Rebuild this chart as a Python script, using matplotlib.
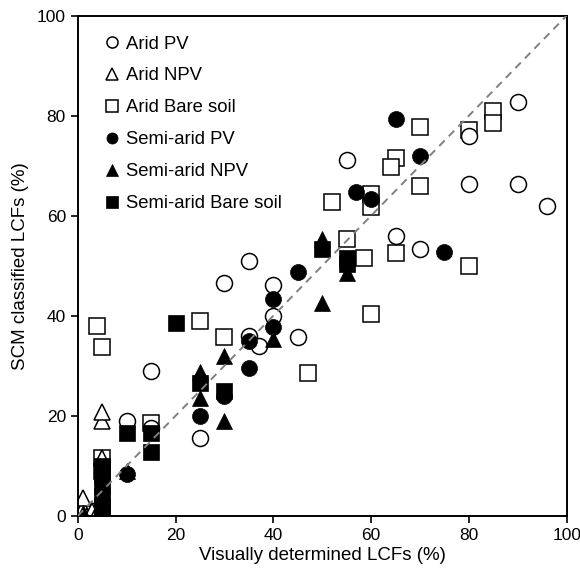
import matplotlib.pyplot as plt
from matplotlib.lines import Line2D

plt.rcParams["font.family"] = ["Liberation Sans", "DejaVu Sans"]

# Visually determined vs SCM classified land cover fractions (%)
arid_pv_x = [3, 10, 15, 15, 25, 30, 35, 35, 37, 40, 40, 45, 55, 65, 70, 80, 80, 90, 90, 96]
arid_pv_y = [1, 19, 29, 17.5, 15.6, 46.6, 51, 36, 34, 46.2, 40, 35.7, 71.2, 56, 53.3, 66.3, 76, 82.7, 66.3, 62]

arid_npv_x = [0.5, 1, 1, 2, 3, 4, 5, 5, 5, 5]
arid_npv_y = [0, 1.5, 3.5, 0, 1, 0.5, 0, 11.5, 19, 20.8]

arid_bare_x = [4, 5, 5, 5, 15, 25, 30, 47, 52, 55, 58.5, 60, 60, 60, 65, 64, 65, 70, 70, 80, 80, 85, 85]
arid_bare_y = [38, 33.7, 11.5, 9, 18.5, 39, 35.7, 28.5, 62.7, 55.3, 51.5, 40.3, 64.3, 61.7, 71.5, 69.7,
               52.5, 66, 77.8, 77.2, 50, 81, 78.5]

semi_pv_x = [5, 10, 25, 30, 35, 35, 40, 40, 45, 57, 60, 65, 70, 75]
semi_pv_y = [3, 8.3, 20, 24, 29.5, 35, 43.3, 37.7, 48.7, 64.8, 63.3, 79.3, 72, 52.8]

semi_npv_x = [1, 5, 5, 10, 25, 25, 30, 30, 40, 50, 50, 55]
semi_npv_y = [0.5, 2, 5, 9, 28.7, 23.5, 32, 19, 35.3, 42.5, 55.3, 48.5]

semi_bare_x = [5, 5, 5, 5, 5, 5, 10, 15, 15, 20, 25, 30, 50, 55, 55]
semi_bare_y = [10, 8, 6, 4, 2, 0.5, 16.5, 16.5, 12.7, 38.5, 26.5, 25, 53.4, 51.5, 50.3]

ticks = [0, 20, 40, 60, 80, 100]

fig = plt.figure(figsize=(5.8, 5.79), dpi=100)
ax = fig.add_axes([0.134, 0.109, 0.843, 0.864])

# 1:1 line
ax.plot([0, 100], [0, 100], linestyle=(0, (4, 3)), color="#808080", linewidth=1.4, zorder=5)

open_style = dict(linestyle="none", markerfacecolor="white", markeredgecolor="black",
                  markeredgewidth=1.1, color="black")
filled_style = dict(linestyle="none", color="black", markeredgecolor="black", markeredgewidth=0.5)

ax.plot(arid_bare_x, arid_bare_y, marker="s", markersize=11, zorder=2, **open_style)
ax.plot(arid_pv_x, arid_pv_y, marker="o", markersize=11.5, zorder=2, **open_style)
ax.plot(arid_npv_x, arid_npv_y, marker="^", markersize=12, zorder=2, **open_style)
ax.plot(semi_pv_x, semi_pv_y, marker="o", markersize=11.5, zorder=3, **filled_style)
ax.plot(semi_npv_x, semi_npv_y, marker="^", markersize=12, zorder=3, **filled_style)
ax.plot(semi_bare_x, semi_bare_y, marker="s", markersize=11, zorder=3, **filled_style)

handles = [
    Line2D([], [], marker="o", markersize=8, **open_style),
    Line2D([], [], marker="^", markersize=8, **open_style),
    Line2D([], [], marker="s", markersize=8, **open_style),
    Line2D([], [], marker="o", markersize=8, **filled_style),
    Line2D([], [], marker="^", markersize=8, **filled_style),
    Line2D([], [], marker="s", markersize=8, **filled_style),
]
labels = ["Arid PV", "Arid NPV", "Arid Bare soil", "Semi-arid PV", "Semi-arid NPV", "Semi-arid Bare soil"]
ax.legend(handles, labels, loc="upper left", bbox_to_anchor=(0.04, 0.975), frameon=False,
          fontsize=13.3, handlelength=0.8, handletextpad=0.35, labelspacing=0.81, borderaxespad=0)

ax.set_xlim(0, 100)
ax.set_ylim(0, 100)
ax.set_xticks(ticks)
ax.set_yticks(ticks)
ax.tick_params(direction="out", length=5, width=1.2, labelsize=12.5, colors="black")
for spine in ax.spines.values():
    spine.set_linewidth(1.4)

ax.set_xlabel("Visually determined LCFs (%)", fontsize=13.5, labelpad=3)
ax.set_ylabel("SCM classified LCFs (%)", fontsize=13.5, labelpad=6)

fig.savefig("out.png", dpi=100)
